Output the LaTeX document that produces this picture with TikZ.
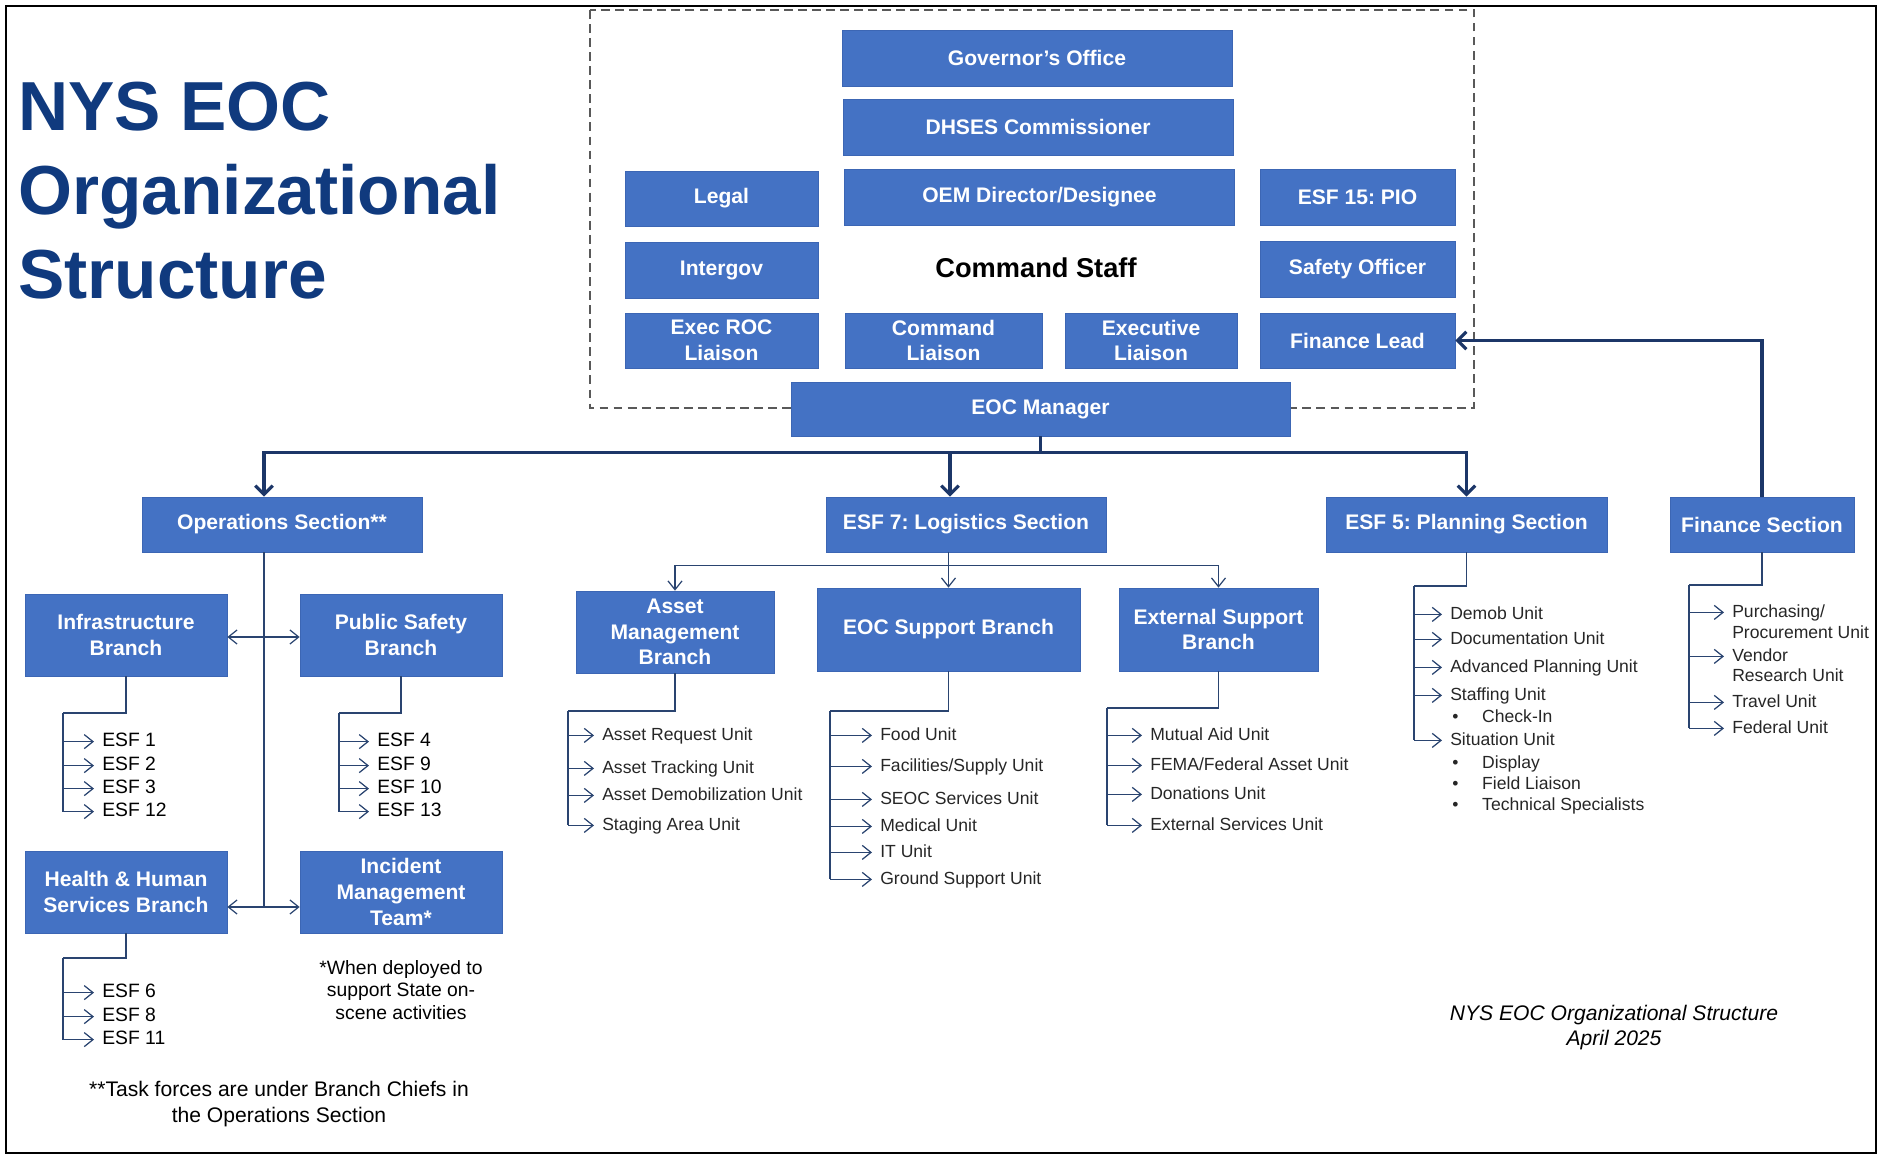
\documentclass[tikz,border=0pt]{standalone}
\usepackage{fontspec}
\setmainfont{Liberation Sans}
\usetikzlibrary{arrows.meta,positioning}
\frenchspacing

\definecolor{boxblue}{HTML}{4472C4}
\definecolor{boxedge}{HTML}{3C66B4}
\definecolor{navy}{HTML}{1C3668}
\definecolor{linkblue}{HTML}{2A4470}
\definecolor{titleblue}{HTML}{103A7E}

\begin{document}
\begin{tikzpicture}[x=0.02cm, y=-0.02cm,
    orgbox/.style 2 args={fill=boxblue, draw=boxedge, line width=0.4pt, text=white,
        font=\fontsize{12}{14.6}\selectfont\bfseries, align=center, inner sep=0pt,
        minimum width=#1, minimum height=#2},
    headline/.style={font=\fontsize{39.5}{47.6}\selectfont\bfseries, text=titleblue, inner sep=0pt},
    link/.style={draw=linkblue, line width=0.7pt},
    bus/.style={draw=navy, line width=1.8pt},
    esf/.style={anchor=west, inner ysep=0pt, inner xsep=4.5pt, text height=.75em, text depth=.2em,
        font=\fontsize{11}{13}\selectfont, yshift=-0.072cm},
    unit/.style={esf, font=\fontsize{10}{12}\selectfont, text=black!85, yshift=0.024cm},
    remark/.style={align=center, inner sep=0pt},
    unitbarb/.tip={Straight Barb[length=5pt,width=8pt]},
    busbarb/.tip={Straight Barb[length=5pt,width=10pt]}]

    \useasboundingbox (0,0) rectangle (1881,1156);
    \draw[line width=1.6pt] (6,6) rectangle (1876,1153);   % page frame

    % Title
    \node[headline, anchor=base west] (ttl1) at (18,130) {NYS EOC};
    \node[headline, anchor=base west] (ttl2) at (18,214) {Organizational};
    \node[headline, anchor=base west] (ttl3) at (18,298) {Structure};

    % Command staff group
    \draw[draw=black!65, line width=0.6pt, dash pattern=on 5pt off 3pt] (590,10) rectangle (1474,408);
    \node[orgbox={7.8cm}{1.12cm}]  (gov)    at (1037,58)    {Governor’s Office};
    \node[orgbox={7.8cm}{1.12cm}]  (dhses)  at (1038,127)   {DHSES Commissioner};
    \node[orgbox={3.86cm}{1.1cm}]  (legal)  at (721.5,198.5) {Legal};
    \node[orgbox={7.8cm}{1.12cm}]  (oem)    at (1039.5,197) {OEM Director/Designee};
    \node[orgbox={3.9cm}{1.12cm}]  (pio)    at (1357.5,197) {ESF 15: PIO};
    \node[orgbox={3.86cm}{1.12cm}] (intergov) at (721.5,270) {Intergov};
    \node[font=\fontsize{15.5}{18}\selectfont\bfseries] (staff) at (1036,268) {Command Staff};
    \node[orgbox={3.9cm}{1.12cm}]  (safety) at (1357.5,269) {Safety Officer};
    \node[orgbox={3.86cm}{1.1cm}]  (execroc) at (721.5,340.5) {Exec ROC\\Liaison};
    \node[orgbox={3.94cm}{1.1cm}]  (cmdliaison) at (943.5,340.5) {Command\\Liaison};
    \node[orgbox={3.44cm}{1.1cm}]  (execliaison) at (1151,340.5) {Executive\\Liaison};
    \node[orgbox={3.9cm}{1.1cm}]   (finlead) at (1357.5,340.5) {Finance Lead};
    \node[orgbox={9.98cm}{1.08cm}] (eocmgr) at (1040.5,409)  {EOC Manager};

    % Sections
    \node[orgbox={5.6cm}{1.1cm}]  (ops)  at (282,524.5)    {Operations Section**};
    \node[orgbox={5.6cm}{1.1cm}]  (logi) at (966,524.5)    {ESF 7: Logistics Section};
    \node[orgbox={5.62cm}{1.1cm}] (plan) at (1466.5,524.5) {ESF 5: Planning Section};
    \node[orgbox={3.68cm}{1.1cm}] (fin)  at (1762,524.5)   {Finance Section};

    \path (eocmgr.south) ++(0,16) coordinate (mgr-bus);
    \draw[bus] (eocmgr.south) -- (mgr-bus);
    \draw[bus,-busbarb] (mgr-bus) -| ([xshift=-0.36cm]ops.north);
    \draw[bus,-busbarb] (mgr-bus) -| ([xshift=-0.32cm]logi.north);
    \draw[bus,-busbarb] (mgr-bus) -| (plan.north);
    \draw[bus,-busbarb] (fin.north) |- (finlead.east);

    % Operations branches
    \node[orgbox={4.04cm}{1.64cm}] (infra)   at (126,635) {Infrastructure\\Branch};
    \node[orgbox={4.04cm}{1.64cm}] (pubsafe) at (401,635) {Public Safety\\Branch};
    \node[orgbox={4.04cm}{1.64cm}] (hhs)     at (126,892) {Health \& Human\\Services Branch};
    \node[orgbox={4.04cm}{1.64cm}] (imt)     at (401,892) {Incident\\Management\\Team*};

    \coordinate (ops-s) at ([xshift=-0.36cm]ops.south);
    \coordinate (infra-a) at ([yshift=-0.04cm]infra.east);
    \coordinate (pubsafe-a) at ([yshift=-0.04cm]pubsafe.west);
    \coordinate (hhs-a) at ([yshift=-0.3cm]hhs.east);
    \coordinate (imt-a) at ([yshift=-0.3cm]imt.west);
    \draw[link] (ops-s) -- (ops-s |- hhs-a);
    \draw[link,unitbarb-unitbarb] (infra-a) -- (pubsafe-a);
    \draw[link,unitbarb-unitbarb] (hhs-a) -- (imt-a);

    % ESFs under each branch
    \coordinate (infra-t) at (63,713);
    \draw[link] (infra.south) |- (infra-t);
    \foreach \y/\n in {738/1, 762/2, 785/3, 808/12} {
        \node[esf] (esf\n) at (94,\y) {ESF \n};
        \draw[link,-unitbarb] (infra-t |- esf\n.west) -- (esf\n.west);
    }
    \draw[link] (infra-t) -- (infra-t |- esf12.west);

    \coordinate (pubsafe-t) at (339,713);
    \draw[link] (pubsafe.south) |- (pubsafe-t);
    \foreach \y/\n in {738/4, 762/9, 785/10, 808/13} {
        \node[esf] (esf\n) at (369,\y) {ESF \n};
        \draw[link,-unitbarb] (pubsafe-t |- esf\n.west) -- (esf\n.west);
    }
    \draw[link] (pubsafe-t) -- (pubsafe-t |- esf13.west);

    \coordinate (hhs-t) at (63,958);
    \draw[link] (hhs.south) |- (hhs-t);
    \foreach \y/\n in {989/6, 1013/8, 1036/11} {
        \node[esf] (esf\n) at (94,\y) {ESF \n};
        \draw[link,-unitbarb] (hhs-t |- esf\n.west) -- (esf\n.west);
    }
    \draw[link] (hhs-t) -- (hhs-t |- esf11.west);

    \node[remark, font=\fontsize{11}{13}\selectfont] (imtnote) at (401,990)
        {*When deployed to\\support State on-\\scene activities};
    \node[remark, font=\fontsize{12}{14.7}\selectfont] (opsnote) at (279,1104)
        {**Task forces are under Branch Chiefs in\\the Operations Section};

    % Logistics branches
    \node[orgbox={3.96cm}{1.64cm}] (asset)  at (675,632)     {Asset\\Management\\Branch};
    \node[orgbox={5.26cm}{1.66cm}] (eocsup) at (948.5,629.5) {EOC Support Branch};
    \node[orgbox={3.98cm}{1.66cm}] (extsup) at (1218.5,629.5) {External Support\\Branch};

    \path (eocsup.north) ++(0,-22) coordinate (logi-bus);
    \draw[link] (logi.south -| logi-bus) -- (logi-bus);
    \draw[link,-unitbarb] (logi-bus) -| (asset.north);
    \draw[link,-unitbarb] (logi-bus) -| (extsup.north);
    \draw[link,-unitbarb] (logi-bus) -- (eocsup.north);

    \coordinate (asset-t) at (568,711);
    \draw[link] (asset.south) |- (asset-t);
    \foreach \y/\t [count=\i] in {733/Asset Request Unit, 766/Asset Tracking Unit,
                                  793/Asset Demobilization Unit, 823/Staging Area Unit} {
        \node[unit] (asset\i) at (594,\y) {\t};
        \draw[link,-unitbarb] (asset-t |- asset\i.west) -- (asset\i.west);
    }
    \draw[link] (asset-t) -- (asset-t |- asset4.west);

    \coordinate (eocsup-t) at (830,711);
    \draw[link] (eocsup.south) |- (eocsup-t);
    \foreach \y/\t [count=\i] in {733/Food Unit, 764/{Facilities/Supply Unit}, 797/SEOC Services Unit,
                                  824/Medical Unit, 850/IT Unit, 877/Ground Support Unit} {
        \node[unit] (eocsup\i) at (872,\y) {\t};
        \draw[link,-unitbarb] (eocsup-t |- eocsup\i.west) -- (eocsup\i.west);
    }
    \draw[link] (eocsup-t) -- (eocsup-t |- eocsup6.west);

    \coordinate (extsup-t) at (1107,708);
    \draw[link] (extsup.south) |- (extsup-t);
    \foreach \y/\t [count=\i] in {733/Mutual Aid Unit, 763/{FEMA/Federal Asset Unit},
                                  792/Donations Unit, 823/External Services Unit} {
        \node[unit] (extsup\i) at (1142,\y) {\t};
        \draw[link,-unitbarb] (extsup-t |- extsup\i.west) -- (extsup\i.west);
    }
    \draw[link] (extsup-t) -- (extsup-t |- extsup4.west);

    % Planning units
    \coordinate (plan-t) at (1414,586);
    \draw[link] (plan.south) |- (plan-t);
    \foreach \y/\t [count=\i] in {612/Demob Unit, 637/Documentation Unit, 665/Advanced Planning Unit,
                                  693/Staffing Unit, 738/Situation Unit} {
        \node[unit] (plan\i) at (1442,\y) {\t};
        \draw[link,-unitbarb] (plan-t |- plan\i.west) -- (plan\i.west);
    }
    \draw[link] (plan-t) -- (plan-t |- plan5.west);
    \foreach \y/\t [count=\i] in {715/Check-In, 761/Display, 782/Field Liaison, 803/Technical Specialists}
        \node[unit, inner xsep=0pt] (sub\i) at (1452,\y) {\makebox[17pt][l]{\textbullet}\t};

    % Finance units
    \coordinate (fin-t) at (1689,585);
    \draw[link] (fin.south) |- (fin-t);
    \node[unit] (fin1)  at (1724,610) {Purchasing/};
    \node[unit] (fin1b) at (1724,631) {Procurement Unit};
    \node[unit] (fin2)  at (1724,654) {Vendor};
    \node[unit] (fin2b) at (1724,674) {Research Unit};
    \node[unit] (fin3)  at (1724,700) {Travel Unit};
    \node[unit] (fin4)  at (1724,726) {Federal Unit};
    \foreach \n in {1,...,4}
        \draw[link,-unitbarb] (fin-t |- fin\n.west) -- (fin\n.west);
    \draw[link] (fin-t) -- (fin-t |- fin4.west);

    \node[remark, font=\fontsize{12}{14.2}\selectfont\itshape] (stamp) at (1614,1028)
        {NYS EOC Organizational Structure\\April 2025};
\end{tikzpicture}
\end{document}
